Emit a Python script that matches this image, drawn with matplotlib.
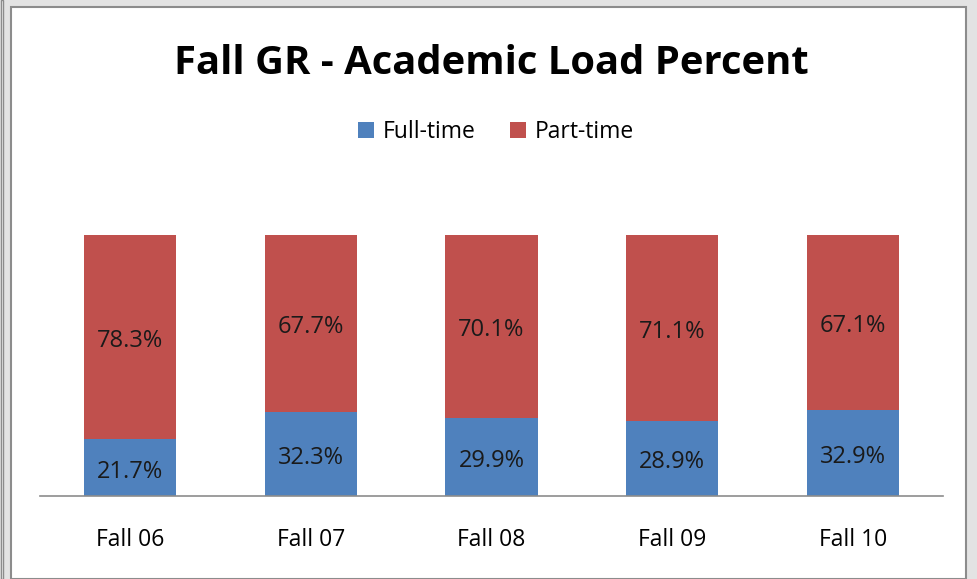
import matplotlib.pyplot as plt
from matplotlib.patches import Rectangle

plt.rcParams['font.family'] = ['Open Sans', 'DejaVu Sans']

# data
years = ["Fall 06", "Fall 07", "Fall 08", "Fall 09", "Fall 10"]
full_time = [21.7, 32.3, 29.9, 28.9, 32.9]
part_time = [78.3, 67.7, 70.1, 71.1, 67.1]

blue = "#4F81BD"
red = "#C0504D"

fig = plt.figure(figsize=(9.77, 5.79), dpi=100)
fig.patch.set_facecolor("#E3E3E3")

# chart frame (white panel with grey border)
W, H = 977, 579
fig.patches.append(Rectangle((11 / W, 0), (966 - 11) / W, (579 - 7) / H,
                             transform=fig.transFigure, facecolor="white",
                             edgecolor="#8C8C8C", linewidth=1.5, zorder=-1))
fig.patches.append(Rectangle((0.5 / W, 0), 2 / W, 1, transform=fig.transFigure,
                             facecolor="white", edgecolor="#8C8C8C",
                             linewidth=1.0, zorder=-1))

ax = fig.add_axes([40 / W, (579 - 496) / H, 903 / W, 261 / H])
ax.set_facecolor("none")
ax.set_zorder(2)

x = range(len(years))
ax.bar(x, full_time, width=0.51, color=blue, label="Full-time")
ax.bar(x, part_time, width=0.51, bottom=full_time, color=red, label="Part-time")

# labels sit a little below the segment middle, like excel does
for i in x:
    ax.text(i, full_time[i] / 2 - 1.5, "{}%".format(full_time[i]), ha="center",
            va="center", fontsize=17, color="#1a1a1a")
    ax.text(i, full_time[i] + part_time[i] / 2 - 1.5, "{}%".format(part_time[i]),
            ha="center", va="center", fontsize=17, color="#1a1a1a")

ax.set_xlim(-0.5, 4.5)
ax.set_ylim(0, 100)
ax.set_xticks(list(x))
ax.set_xticklabels(years, fontsize=16.5)
ax.tick_params(axis="x", length=0, pad=23)
ax.set_yticks([])
for s in ["top", "right", "left"]:
    ax.spines[s].set_visible(False)
ax.spines["bottom"].set_color("#8C8C8C")
ax.spines["bottom"].set_linewidth(1.2)

fig.text(491 / W, 1 - 64 / H, "Fall GR - Academic Load Percent",
         ha="center", va="center", fontsize=28.8, fontweight="bold")

fig.legend(loc="center", bbox_to_anchor=(496 / W, 1 - 132 / H), ncol=2,
           frameon=False, fontsize=16.5, handlelength=0.7, handleheight=0.7,
           handletextpad=0.4, columnspacing=1.5)

plt.savefig("out.png", dpi=100, facecolor=fig.get_facecolor())
